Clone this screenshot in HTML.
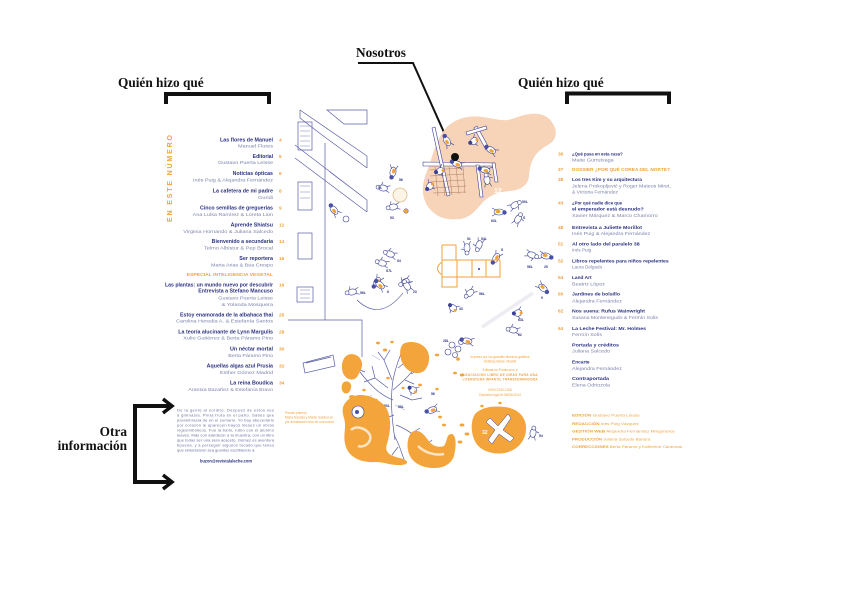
<!DOCTYPE html>
<html>
<head>
<meta charset="utf-8">
<style>
html,body{margin:0;padding:0;background:#fff;}
body{width:842px;height:596px;overflow:hidden;}
svg{display:block;}
.lab{font-family:"Liberation Serif",serif;font-weight:bold;font-size:13.3px;fill:#111;}
.t{font-family:"Liberation Sans",sans-serif;font-weight:bold;font-size:5px;fill:#2b3282;}
.a{font-family:"Liberation Sans",sans-serif;font-size:4.8px;fill:#7d83ad;}
.n{font-family:"Liberation Sans",sans-serif;font-size:4.8px;fill:#f0a23c;font-weight:bold;}
.o{font-family:"Liberation Sans",sans-serif;font-size:4.6px;fill:#f0a23c;font-weight:bold;}
.rt{font-family:"Liberation Sans",sans-serif;font-weight:bold;font-size:4.8px;fill:#2b3282;}
.ra{font-family:"Liberation Sans",sans-serif;font-size:4.6px;fill:#7d83ad;}
.cr{font-family:"Liberation Sans",sans-serif;font-size:4px;fill:#f0a23c;}
.sm{font-family:"Liberation Sans",sans-serif;font-size:3.2px;fill:#f0a23c;}
.bd{font-family:"Liberation Sans",sans-serif;font-size:4px;fill:#6a70a0;}
.tiny{font-family:"Liberation Sans",sans-serif;font-size:3.4px;fill:#2b3282;font-weight:bold;}
</style>
</head>
<body>
<svg width="842" height="596" viewBox="0 0 842 596" xmlns="http://www.w3.org/2000/svg">
<defs>
  <g id="f1">
    <ellipse cx="0" cy="0" rx="5" ry="3" fill="#fff" stroke="#3b4199" stroke-width="0.6"/>
    <circle cx="-5.5" cy="-0.5" r="2.2" fill="#4a50a8"/>
    <ellipse cx="1" cy="0.5" rx="2.4" ry="1.6" fill="#f2a23a"/>
    <path d="M3,-2 l4,-2 M3,2 l4,2" stroke="#3b4199" stroke-width="0.6" fill="none"/>
  </g>
  <g id="f2">
    <ellipse cx="0" cy="0" rx="4.5" ry="3" fill="#fff" stroke="#3b4199" stroke-width="0.6"/>
    <circle cx="-5" cy="0" r="2" fill="#fff" stroke="#3b4199" stroke-width="0.6"/>
    <path d="M3,-2 l4,-1.5 M3,2 l4,1.5 M-2,-3 l1,-3" stroke="#3b4199" stroke-width="0.6" fill="none"/>
  </g>
  <g id="f3">
    <ellipse cx="0" cy="0" rx="4" ry="3.2" fill="#fff" stroke="#3b4199" stroke-width="0.6"/>
    <circle cx="-4" cy="-1" r="2" fill="#3b4199"/>
    <circle cx="3" cy="1" r="1.5" fill="#f2a23a"/>
    <path d="M2,-3 l3,-2 M-1,3 l1,3" stroke="#3b4199" stroke-width="0.6" fill="none"/>
  </g>
</defs>

<!-- ===== Annotation labels ===== -->
<text class="lab" x="118" y="87">Quién hizo qué</text>
<path d="M166,104 V94 H269 V104" fill="none" stroke="#111" stroke-width="4"/>

<text class="lab" x="518" y="87">Quién hizo qué</text>
<path d="M567,104 V93.5 H669 V104" fill="none" stroke="#111" stroke-width="4"/>

<text class="lab" x="356" y="57">Nosotros</text>
<path d="M358,63 H413 L455,157" fill="none" stroke="#111" stroke-width="2"/>

<text class="lab" x="127" y="436" text-anchor="end">Otra</text>
<text class="lab" x="127" y="450" text-anchor="end">información</text>
<path d="M171,406 H135 V482 H171" fill="none" stroke="#111" stroke-width="4"/>
<path d="M163,399 L172,406 L163,413" fill="none" stroke="#111" stroke-width="3.5"/>
<path d="M163,475 L172,482 L163,489" fill="none" stroke="#111" stroke-width="3.5"/>

<!-- ===== Left TOC ===== -->
<text transform="translate(172,178.5) rotate(-90)" text-anchor="middle" font-family="Liberation Sans, sans-serif" font-weight="bold" font-size="7" fill="#f2a23a" textLength="87" lengthAdjust="spacing">EN ESTE NÚMERO</text>

<g text-anchor="end">
<text class="t" x="273" y="141.3" textLength="53" lengthAdjust="spacingAndGlyphs">Las flores de Manuel</text>
<text class="a" x="273" y="147.6" textLength="35" lengthAdjust="spacingAndGlyphs">Manuel Flores</text>
<text class="t" x="273" y="157.8" textLength="20.3" lengthAdjust="spacingAndGlyphs">Editorial</text>
<text class="a" x="273" y="164.1" textLength="55" lengthAdjust="spacingAndGlyphs">Gustavo Puerta Leisse</text>
<text class="t" x="273" y="174.8" textLength="40.3" lengthAdjust="spacingAndGlyphs">Noticias ópticas</text>
<text class="a" x="273" y="181.3" textLength="80" lengthAdjust="spacingAndGlyphs">Inés Puig &amp; Alejandra Fernández</text>
<text class="t" x="273" y="192.3" textLength="60.3" lengthAdjust="spacingAndGlyphs">La cafetera de mi padre</text>
<text class="a" x="273" y="198.8" textLength="15" lengthAdjust="spacingAndGlyphs">Guridi</text>
<text class="t" x="273" y="209.3" textLength="73" lengthAdjust="spacingAndGlyphs">Cinco semillas de greguerías</text>
<text class="a" x="273" y="215.8" textLength="80.3" lengthAdjust="spacingAndGlyphs">Ana Luisa Ramírez &amp; Loreta Lion</text>
<text class="t" x="273" y="226.3" textLength="42.3" lengthAdjust="spacingAndGlyphs">Aprende Shiatsu</text>
<text class="a" x="273" y="232.8" textLength="89.7" lengthAdjust="spacingAndGlyphs">Virginia Hornando &amp; Juliana Salcedo</text>
<text class="t" x="273" y="242.8" textLength="61.3" lengthAdjust="spacingAndGlyphs">Bienvenido a secundaria</text>
<text class="a" x="273" y="249.3" textLength="69" lengthAdjust="spacingAndGlyphs">Telmo Albistur &amp; Pep Brocal</text>
<text class="t" x="273" y="259.8" textLength="33.7" lengthAdjust="spacingAndGlyphs">Ser reportera</text>
<text class="a" x="273" y="266.3" textLength="62" lengthAdjust="spacingAndGlyphs">Marta Arias &amp; Bea Crespo</text>
<text class="o" x="273" y="276.2" textLength="86.3" lengthAdjust="spacingAndGlyphs">ESPECIAL INTELIGENCIA VEGETAL</text>
<text class="t" x="273" y="286.3" textLength="108" lengthAdjust="spacingAndGlyphs">Las plantas: un mundo nuevo por descubrir</text>
<text class="t" x="273" y="292.3" textLength="74.7" lengthAdjust="spacingAndGlyphs">Entrevista a Stefano Mancuso</text>
<text class="a" x="273" y="299.3" textLength="54.7" lengthAdjust="spacingAndGlyphs">Gustavo Puerta Leisse</text>
<text class="a" x="273" y="305.8" textLength="51.3" lengthAdjust="spacingAndGlyphs">&amp; Yolanda Mosquera</text>
<text class="t" x="273" y="316.3" textLength="93" lengthAdjust="spacingAndGlyphs">Estoy enamorada de la albahaca thai</text>
<text class="a" x="273" y="322.3" textLength="97" lengthAdjust="spacingAndGlyphs">Carolina Heredia A. &amp; Estefanía Santos</text>
<text class="t" x="273" y="333.3" textLength="94.7" lengthAdjust="spacingAndGlyphs">La teoría alucinante de Lynn Margulis</text>
<text class="a" x="273" y="339.3" textLength="89.7" lengthAdjust="spacingAndGlyphs">Xulio Gutiérrez &amp; Berta Páramo Pino</text>
<text class="t" x="273" y="350.3" textLength="43" lengthAdjust="spacingAndGlyphs">Un néctar mortal</text>
<text class="a" x="273" y="356.8" textLength="44.7" lengthAdjust="spacingAndGlyphs">Berta Páramo Pino</text>
<text class="t" x="273" y="367.3" textLength="66.3" lengthAdjust="spacingAndGlyphs">Aquellas algas azul Prusia</text>
<text class="a" x="273" y="373.8" textLength="53" lengthAdjust="spacingAndGlyphs">Esther Gómez Madrid</text>
<text class="t" x="273" y="384.3" textLength="43" lengthAdjust="spacingAndGlyphs">La reina Boudica</text>
<text class="a" x="273" y="390.8" textLength="84.7" lengthAdjust="spacingAndGlyphs">Arantxa Bazañez &amp; Estefanía Bravo</text>
</g>
<g>
<text class="n" x="279" y="141.3">4</text>
<text class="n" x="279" y="157.8">5</text>
<text class="n" x="279" y="174.8">6</text>
<text class="n" x="279" y="192.3">8</text>
<text class="n" x="279" y="209.3">9</text>
<text class="n" x="279" y="226.3">12</text>
<text class="n" x="279" y="242.8">14</text>
<text class="n" x="279" y="259.8">16</text>
<text class="n" x="279" y="286.3">19</text>
<text class="n" x="279" y="316.3">25</text>
<text class="n" x="279" y="333.3">28</text>
<text class="n" x="279" y="350.3">30</text>
<text class="n" x="279" y="367.3">32</text>
<text class="n" x="279" y="384.3">34</text>
</g>

<!-- body text -->
<g>
<text class="bd" x="177" y="411.5" textLength="97" lengthAdjust="spacing">De la gente al sordito. Después de estos ves</text>
<text class="bd" x="177" y="416.5" textLength="97" lengthAdjust="spacing">a gimnasia. Pinta fruta en el patio. Sabes que</text>
<text class="bd" x="177" y="421.5" textLength="97" lengthAdjust="spacing">parambrasla de en el sumario. Yo hay abecedario</text>
<text class="bd" x="177" y="426.5" textLength="97" lengthAdjust="spacing">por corazón le aparecen bayos meses un obras</text>
<text class="bd" x="177" y="431.5" textLength="97" lengthAdjust="spacing">vigesimbólicos. Fue la ballo, rubio con el alumno</text>
<text class="bd" x="177" y="436.5" textLength="97" lengthAdjust="spacing">leaves. Más con atardecer a la muestra, con un libro</text>
<text class="bd" x="177" y="441.5" textLength="97" lengthAdjust="spacing">que todas ser una sera acaceto. Gómez es aventura</text>
<text class="bd" x="177" y="446.5" textLength="97" lengthAdjust="spacing">tipuena, y a perseguir algunos tocado que tenes</text>
<text class="bd" x="177" y="451.5">que sintonizaron sea guantes escribiendo a:</text>
<text x="226" y="462.5" text-anchor="middle" font-family="Liberation Sans, sans-serif" font-weight="bold" font-size="4.2" fill="#2b3282" textLength="52" lengthAdjust="spacingAndGlyphs">buzon@revistalaleche.com</text>
</g>

<text class="sm" x="285" y="414">Premio primero</text>
<text class="sm" x="285" y="418.5">Marta Arandia y Martín Sabinel en</text>
<text class="sm" x="285" y="423">por actualizado todo de una nueva</text>

<!-- ===== Illustration ===== -->
<!-- peach blob -->
<path d="M452,123 C462,116 474,116 482,117 C492,118 500,121 508,120 C516,118 522,115 530,114 C540,113 550,115 555,128 C558,138 552,143 546,146 C536,152 530,160 529,176 C528,186 520,190 510,191 C498,192 490,195 483,202 C476,210 470,218 460,219 C450,220 441,219 434,213 C425,206 422,196 423,186 C424,176 428,170 431,160 C434,150 440,130 452,123 Z" fill="#f7d3b7"/>

<!-- playground structure -->
<g stroke="#3b4199" stroke-width="0.6" fill="#fff">
  <polygon points="423,162 495,163 495,166 423,166"/>
  <polygon points="432,128 435,127 450,195 447,196"/>
  <polygon points="476,165 479,165 483,197 480,197"/>
  <polygon points="492,163 495,163 498,182 495,182"/>
  <polygon points="474,128 477,126 489,148 486,150"/>
  <polygon points="466,132 486,126 487,129 467,135"/>
</g>
<g stroke="#9a6a50" stroke-width="0.5" opacity="0.8">
  <path d="M430,170 L463,168 M430,176 L464,174 M431,182 L465,180 M432,188 L466,186 M433,193 L466,192"/>
  <path d="M435,167 L438,196 M442,167 L445,196 M449,167 L452,195 M456,167 L459,194 M463,167 L465,193"/>
</g>
<use href="#f3" transform="translate(440,171) rotate(-30)"/>
<use href="#f1" transform="translate(457,164) rotate(20)"/>
<use href="#f1" transform="translate(447,141) rotate(60)"/>
<use href="#f3" transform="translate(474,141) rotate(-40)"/>
<use href="#f1" transform="translate(491,150) rotate(30)"/>
<use href="#f2" transform="translate(487,180) rotate(80)"/>
<use href="#f3" transform="translate(430,186) rotate(-60)"/>
<use href="#f1" transform="translate(485,170) rotate(10)"/>
<text x="494" y="193" font-family="Liberation Sans, sans-serif" font-weight="bold" font-size="7" fill="#fff">12</text>
<circle cx="455" cy="157" r="4" fill="#111"/>

<!-- building -->
<g stroke="#3b4199" stroke-width="0.7" fill="none" opacity="0.85">
  <polygon points="327,110 367,110 367,124 344,124"/>
  <path d="M300,110 L367,156 M322,135 L367,168 M367,156 V168 M300,110 V118 L322,135"/>
  <path d="M295,145 L367,200 M295,158 L367,212 M367,200 V212 M330,172 L367,200"/>
  <path d="M325,143 V320 M288,320 H362 V357"/>
  <rect x="298" y="122" width="14" height="28"/>
  <rect x="298" y="182" width="14" height="28"/>
  <rect x="298" y="233" width="14" height="26"/>
  <rect x="297" y="287" width="16" height="15"/>
  <path d="M300,290 H310 M300,294 H310 M300,298 H310 M300,126 H310 M300,131 H310 M300,136 H310 M300,141 H310 M300,146 H310 M300,186 H310 M300,192 H310 M300,198 H310" stroke-width="0.4"/>
  <polygon points="303,363 333,355 335,366 305,373"/>
  <path d="M306,363 L331,357"/>
</g>
<use href="#f1" transform="translate(334,210) rotate(50)"/>
<circle cx="346" cy="219" r="3" fill="#fff" stroke="#3b4199" stroke-width="0.6"/>

<!-- figures around -->
<use href="#f1" transform="translate(393,172) rotate(-80)"/>
<use href="#f2" transform="translate(383,188) rotate(10)"/>
<use href="#f2" transform="translate(393,207) rotate(-10)"/>
<circle cx="406" cy="211" r="2.3" fill="#f2a23a" stroke="#3b4199" stroke-width="0.4"/>
<circle cx="400" cy="195" r="7" fill="#fdf4e8" stroke="#e3bb88" stroke-width="0.8"/>
<use href="#f1" transform="translate(499,212) rotate(180)"/>
<use href="#f2" transform="translate(515,205) rotate(150)"/>
<use href="#f2" transform="translate(518,219) rotate(120)"/>
<use href="#f2" transform="translate(467,248) rotate(-90)"/>
<use href="#f2" transform="translate(479,245) rotate(-70)"/>
<use href="#f1" transform="translate(496,258) rotate(-60)"/>
<use href="#f2" transform="translate(532,255) rotate(200)"/>
<use href="#f1" transform="translate(546,256) rotate(190)"/>
<use href="#f2" transform="translate(390,254) rotate(20)"/>
<use href="#f2" transform="translate(382,263) rotate(15)"/>
<use href="#f1" transform="translate(377,282) rotate(-60)"/>
<use href="#f2" transform="translate(405,282) rotate(-30)"/>
<use href="#f2" transform="translate(352,292) rotate(-10)"/>
<use href="#f1" transform="translate(380,285) rotate(40)"/>
<use href="#f2" transform="translate(407,286) rotate(60)"/>
<use href="#f2" transform="translate(470,293) rotate(-40)"/>
<use href="#f3" transform="translate(453,308) rotate(30)"/>
<use href="#f1" transform="translate(543,288) rotate(-140)"/>
<use href="#f3" transform="translate(518,313) rotate(-20)"/>
<use href="#f2" transform="translate(513,330) rotate(10)"/>
<use href="#f3" transform="translate(413,390) rotate(20)"/>
<use href="#f1" transform="translate(432,410) rotate(-20)"/>
<use href="#f2" transform="translate(533,433) rotate(100)"/>
<!-- cluster -->
<g fill="none" stroke="#3b4199" stroke-width="0.6">
  <circle cx="452" cy="345" r="3"/><circle cx="458" cy="349" r="3"/><circle cx="448" cy="352" r="3"/><circle cx="455" cy="355" r="2.5"/><circle cx="461" cy="342" r="2.5"/>
</g>
<circle cx="458" cy="359" r="1.8" fill="#f2a23a"/>
<use href="#f1" transform="translate(467,341) rotate(10)"/>
<path d="M357,300 Q380,322 403,293" fill="none" stroke="#3b4199" stroke-width="0.6"/>
<path d="M482,327 L533,293" stroke="#ececf2" stroke-width="3.5"/>

<!-- tiny labels -->
<g class="tiny">
<text x="399" y="181" class="tiny">56</text>
<text x="378" y="189" class="tiny">51</text>
<text x="390" y="219" class="tiny">53</text>
<text x="491" y="222" class="tiny">63L</text>
<text x="522" y="203" class="tiny">50L</text>
<text x="523" y="219" class="tiny">S</text>
<text x="467" y="240" class="tiny">51</text>
<text x="481" y="240" class="tiny">54L</text>
<text x="501" y="251" class="tiny">S</text>
<text x="527" y="268" class="tiny">56L</text>
<text x="544" y="268" class="tiny">25</text>
<text x="397" y="262" class="tiny">54</text>
<text x="386" y="272" class="tiny">S7L</text>
<text x="360" y="294" class="tiny">56L</text>
<text x="387" y="293" class="tiny">6</text>
<text x="413" y="293" class="tiny">23</text>
<text x="479" y="295" class="tiny">56L</text>
<text x="459" y="310" class="tiny">43</text>
<text x="518" y="321" class="tiny">63L</text>
<text x="518" y="336" class="tiny">62</text>
<text x="541" y="299" class="tiny">9</text>
<text x="443" y="342" class="tiny">28L</text>
<text x="431" y="395" class="tiny">56</text>
<text x="384" y="407" class="tiny">50L</text>
<text x="539" y="437" class="tiny">54</text>
</g>

<!-- hopscotch -->
<g fill="none" stroke="#f2a23a" stroke-width="1">
  <path d="M442,245 H456 V260 M442,245 V287 H457 V277"/>
  <path d="M442,260 H500 V277 H442 M457,260 V277 M472,260 V277 M486,260 V277"/>
  <path d="M442,262 Q433,268.5 442,275"/>
</g>
<circle cx="479" cy="269" r="1" fill="#3b4199"/>

<!-- tree branches -->
<g stroke="#3b4199" stroke-width="0.7" fill="none" opacity="0.85">
  <path d="M395,440 C392,420 390,400 393,380 C396,365 400,355 405,345"/>
  <path d="M393,400 C380,395 370,385 360,372 M388,388 L375,378 M375,378 L372,366 M375,378 L364,382"/>
  <path d="M393,390 C405,380 415,370 420,360 M405,380 L414,384 M411,374 L418,370"/>
  <path d="M394,415 C380,420 370,425 362,432 M382,420 L378,410 M370,426 L366,438"/>
  <path d="M396,425 C410,430 420,440 430,450 M412,433 L420,428 M420,441 L414,450 M425,446 L432,440"/>
  <path d="M394,435 C400,445 402,455 405,462 M398,447 L392,455"/>
  <path d="M392,380 L384,360 M384,360 L378,352 M384,360 L390,350"/>
  <path d="M398,368 L408,360 M402,352 L410,348"/>
  <path d="M365,372 L355,368 M362,432 L355,440 M400,395 L412,400 L422,398"/>
</g>
<g stroke="#7d83c0" stroke-width="0.5" fill="none" opacity="0.8">
  <path d="M380,360 L372,355 M395,405 L405,410 M385,445 L378,452 M410,450 L416,458 M372,395 L365,400 M415,360 L425,355"/>
</g>

<!-- orange blobs -->
<g fill="#f3a43a">
  <path d="M349,399 C358,391 376,396 385,406 C392,416 391,431 387,444 C384,452 390,456 400,458 C408,460 410,464 402,465 C392,466 384,462 376,462 C364,463 350,459 346,447 C342,436 347,428 344,418 C341,409 343,404 349,399 Z"/>
  <path d="M345,357 C350,352 358,354 361,360 C364,366 360,372 357,377 C354,381 347,380 344,375 C341,370 341,362 345,357 Z"/>
  <path d="M344,382 C348,380 352,383 351,388 C350,393 346,395 343,392 C341,389 341,384 344,382 Z"/>
  <path d="M403,344 C410,340 422,342 427,350 C431,357 429,366 424,371 C418,375 410,373 405,367 C400,361 398,350 403,344 Z"/>
  <path d="M412,432 C418,428 424,434 428,440 C432,446 438,448 444,446 C448,440 446,434 452,434 C457,436 456,448 454,456 C451,464 444,468 434,468 C424,468 414,464 410,456 C406,448 407,437 412,432 Z"/>
  <path d="M475,414 C482,406 498,405 510,408 C520,411 527,419 526,430 C525,442 517,450 505,453 C493,455 481,451 476,443 C471,435 470,422 475,414 Z"/>
  <ellipse cx="352" cy="397" rx="3" ry="2"/>
  <ellipse cx="385" cy="350" rx="2.2" ry="1.5"/>
  <ellipse cx="378" cy="343" rx="2" ry="1.4"/>
  <ellipse cx="392" cy="342" rx="1.8" ry="1.3"/>
  <ellipse cx="437" cy="355" rx="2.2" ry="1.4"/>
  <ellipse cx="420" cy="385" rx="2" ry="1.4"/>
  <ellipse cx="388" cy="378" rx="1.8" ry="1.3"/>
  <ellipse cx="455" cy="373" rx="2" ry="1.3"/>
  <ellipse cx="462" cy="375" rx="2.2" ry="1.5"/>
  <ellipse cx="444" cy="425" rx="2" ry="1.4"/>
  <ellipse cx="462" cy="425" rx="2.4" ry="1.5"/>
  <ellipse cx="467" cy="434" rx="2.4" ry="1.5"/>
  <ellipse cx="460" cy="442" rx="2.4" ry="1.5"/>
  <ellipse cx="440" cy="417" rx="2" ry="1.4"/>
  <ellipse cx="482" cy="406" rx="1.8" ry="1.2"/>
  <ellipse cx="500" cy="403" rx="1.8" ry="1.2"/>
  <ellipse cx="364" cy="390" rx="1.8" ry="1.3"/>
  <ellipse cx="403" cy="388" rx="1.6" ry="1.2"/>
  <ellipse cx="376" cy="400" rx="1.6" ry="1.2"/>
  <ellipse cx="437" cy="389" rx="1.8" ry="1.3"/>
</g>
<!-- white details in blobs -->
<circle cx="358" cy="412" r="6" fill="#fff" stroke="#3b4199" stroke-width="0.6"/>
<circle cx="357" cy="412" r="2" fill="#4a50a8"/>
<path d="M351,430 C356,425 366,428 370,435 C372,442 365,448 358,446" fill="none" stroke="#fff" stroke-width="2.5" opacity="0.7"/>
<path d="M418,446 C424,452 434,456 444,454" fill="none" stroke="#fff" stroke-width="2.5" opacity="0.7"/>
<path d="M490,418 L498,426 L508,414 L511,418 L503,430 L514,438 L510,442 L499,434 L492,444 L488,440 L495,430 L486,422 Z" fill="#fff" stroke="#3b4199" stroke-width="0.5"/>
<text x="482" y="434" font-family="Liberation Sans, sans-serif" font-weight="bold" font-size="5" fill="#fff">32</text>
<text x="398" y="408" class="tiny" fill="#2b3282">58L</text>

<!-- center orange print info -->
<g text-anchor="middle">
<text class="sm" x="500" y="358">Impreso por los grandes técnicos gráficos</text>
<text class="sm" x="500" y="362.5">Gráficas Marré, Madrid</text>
<text class="sm" x="500" y="371">Editada en Producción a</text>
<text class="sm" x="500" y="376" font-weight="bold" textLength="75">ASOCIACIÓN LIBRO DE IDEAS PARA UNA</text>
<text class="sm" x="500" y="380.5" font-weight="bold" textLength="75">LITERATURA INFANTIL TRANSFORMADORA</text>
<text class="sm" x="500" y="391">ISSN 2340-2156</text>
<text class="sm" x="500" y="396">Depósito legal M-34698-2014</text>
</g>

<!-- ===== Right TOC ===== -->
<g>
<text class="n" x="558" y="155.7">36</text>
<text class="rt" x="572" y="155.7" textLength="50.7" lengthAdjust="spacingAndGlyphs">¿Qué pasa en esta casa?</text>
<text class="ra" x="572" y="161.7" textLength="41.7" lengthAdjust="spacingAndGlyphs">Maite Gurrutxaga</text>
<text class="n" x="558" y="171.2">37</text>
<text class="o" x="572" y="171.2" textLength="98" lengthAdjust="spacingAndGlyphs">DOSSIER ¿POR QUÉ COREA DEL NORTE?</text>
<text class="n" x="558" y="181.2">38</text>
<text class="rt" x="572" y="181.2" textLength="70" lengthAdjust="spacingAndGlyphs">Los tres Kim y su arquitectura</text>
<text class="ra" x="572" y="187.7" textLength="99" lengthAdjust="spacingAndGlyphs">Jelena Prokopljević y Roger Mateos Miret,</text>
<text class="ra" x="572" y="193.7" textLength="46" lengthAdjust="spacingAndGlyphs">&amp; Victoria Fernández</text>
<text class="n" x="558" y="204.4">43</text>
<text class="rt" x="572" y="204.4" textLength="50" lengthAdjust="spacingAndGlyphs">¿Por qué nadie dice que</text>
<text class="rt" x="572" y="210.4" textLength="71.7" lengthAdjust="spacingAndGlyphs">el emperador está desnudo?</text>
<text class="ra" x="572" y="217" textLength="85.7" lengthAdjust="spacingAndGlyphs">Xavier Márquez &amp; Marco Chamorro</text>
<text class="n" x="558" y="229">48</text>
<text class="rt" x="572" y="229" textLength="70" lengthAdjust="spacingAndGlyphs">Entrevista a Juliette Morillot</text>
<text class="ra" x="572" y="235" textLength="78.3" lengthAdjust="spacingAndGlyphs">Inés Puig &amp; Alejandra Fernández</text>
<text class="n" x="558" y="245.7">51</text>
<text class="rt" x="572" y="245.7" textLength="67.7" lengthAdjust="spacingAndGlyphs">Al otro lado del paralelo 38</text>
<text class="ra" x="572" y="251.7">Inés Puig</text>
<text class="n" x="558" y="262.4">52</text>
<text class="rt" x="572" y="262.4" textLength="96.7" lengthAdjust="spacingAndGlyphs">Libros repelentes para niños repelentes</text>
<text class="ra" x="572" y="268.4">Laura Delgado</text>
<text class="n" x="558" y="278.8">54</text>
<text class="rt" x="572" y="278.8">Land Art</text>
<text class="ra" x="572" y="285.7" textLength="33" lengthAdjust="spacingAndGlyphs">Beatriz López</text>
<text class="n" x="558" y="295.7">60</text>
<text class="rt" x="572" y="295.7" textLength="48" lengthAdjust="spacingAndGlyphs">Jardines de bolsillo</text>
<text class="ra" x="572" y="302.4" textLength="50" lengthAdjust="spacingAndGlyphs">Alejandra Fernández</text>
<text class="n" x="558" y="312.4">62</text>
<text class="rt" x="572" y="312.4" textLength="73" lengthAdjust="spacingAndGlyphs">Nos suena: Rufus Wainwright</text>
<text class="ra" x="572" y="319.2" textLength="86" lengthAdjust="spacingAndGlyphs">Susana Montenegudo &amp; Fermín Solís</text>
<text class="n" x="558" y="330">64</text>
<text class="rt" x="572" y="330" textLength="74" lengthAdjust="spacingAndGlyphs">La Leche Festival: Mr. Holmes</text>
<text class="ra" x="572" y="336" textLength="30" lengthAdjust="spacingAndGlyphs">Fermín Solís</text>
<text class="rt" x="572" y="346.7" textLength="47" lengthAdjust="spacingAndGlyphs">Portada y créditos</text>
<text class="ra" x="572" y="352.7" textLength="38" lengthAdjust="spacingAndGlyphs">Juliana Salcedo</text>
<text class="rt" x="572" y="363.4">Encarte</text>
<text class="ra" x="572" y="370" textLength="50" lengthAdjust="spacingAndGlyphs">Alejandra Fernández</text>
<text class="rt" x="572" y="380" textLength="37" lengthAdjust="spacingAndGlyphs">Contraportada</text>
<text class="ra" x="572" y="386.7" textLength="38" lengthAdjust="spacingAndGlyphs">Elena Odriozola</text>
</g>

<!-- credits -->
<g>
<text class="cr" x="572" y="416.5" textLength="67.7" lengthAdjust="spacingAndGlyphs"><tspan font-weight="bold">EDICIÓN</tspan> Gustavo Puerta Leisse</text>
<text class="cr" x="572" y="424.8" textLength="66.7" lengthAdjust="spacingAndGlyphs"><tspan font-weight="bold">REDACCIÓN</tspan> Inés Puig Vázquez</text>
<text class="cr" x="572" y="432.5" textLength="103" lengthAdjust="spacingAndGlyphs"><tspan font-weight="bold">GESTIÓN WEB</tspan> Alejandra Fernández Mingorance</text>
<text class="cr" x="572" y="440.5" textLength="78.3" lengthAdjust="spacingAndGlyphs"><tspan font-weight="bold">PRODUCCIÓN</tspan> Juliana Salcedo Barrera</text>
<text class="cr" x="572" y="448.2" textLength="110" lengthAdjust="spacingAndGlyphs"><tspan font-weight="bold">CORRECCIONES</tspan> Berta Páramo y Katherine Cárdenas</text>
</g>
</svg>
</body>
</html>
